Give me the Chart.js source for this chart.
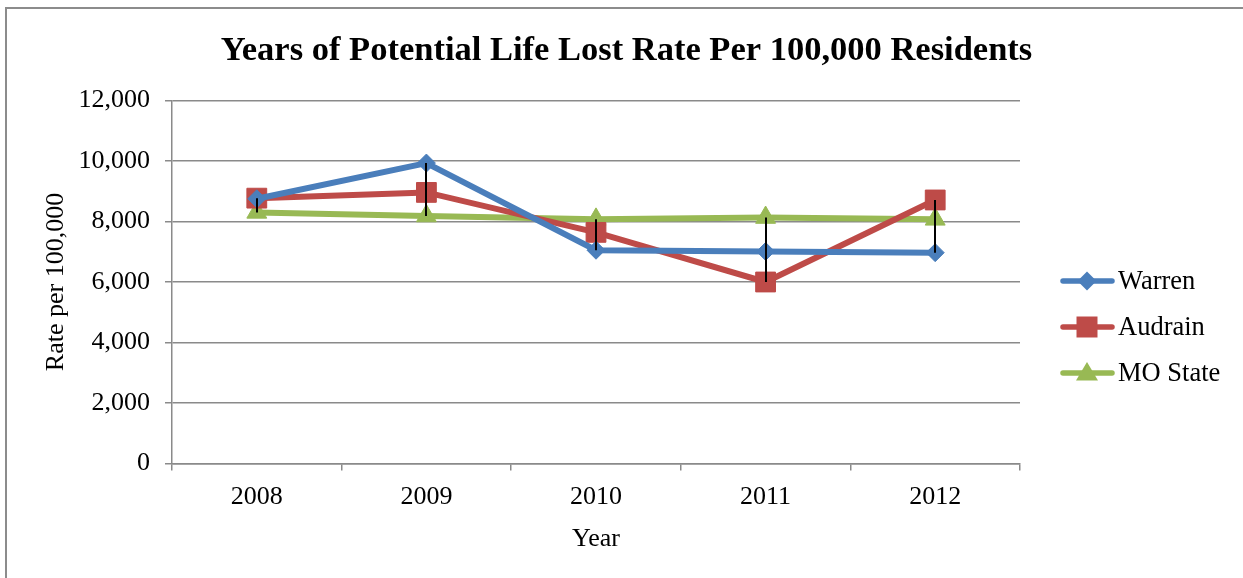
<!DOCTYPE html>
<html>
<head>
<meta charset="utf-8">
<script src="https://cdn.jsdelivr.net/npm/chart.js@4/dist/chart.umd.min.js"></script>
<style>
  body { margin: 0; background: #fff; }
  #wrap { position: relative; width: 1243px; height: 578px; }
  #frame { position: absolute; left: 5px; top: 7px; right: -4px; bottom: -4px; border-left: 2px solid #8c8c8c; border-top: 2px solid #8c8c8c; }
  #yplchart { position: absolute; left: 0; top: 0; }
</style>
</head>
<body>
<div id="wrap">
  <div id="frame"></div>
  <canvas id="yplchart" width="1243" height="578"></canvas>
</div>
<script>
var years = ["2008", "2009", "2010", "2011", "2012"];
var warren = [8750, 9930, 7050, 7010, 6970];
var audrain = [8770, 8960, 7640, 6000, 8710];
var moState = [8300, 8180, 8070, 8130, 8070];
var yTickValues = [0, 2000, 4000, 6000, 8000, 10000, 12000];

var serif = "'Liberation Serif', 'Times New Roman', serif";
var gridGray = "#8a8a8a";

// black high-low line at each year, from the highest to the lowest series value
var hiLowLines = {
  id: "hiLowLines",
  afterDatasetsDraw: function (chart) {
    var ctx = chart.ctx;
    var xs = chart.scales.x, ys = chart.scales.y;
    ctx.save();
    ctx.strokeStyle = "#000";
    ctx.lineWidth = 2;
    years.forEach(function (yr, i) {
      var vals = chart.data.datasets.map(function (d) { return d.data[i]; });
      var x = Math.round(xs.getPixelForValue(i));
      ctx.beginPath();
      ctx.moveTo(x, ys.getPixelForValue(Math.max.apply(null, vals)));
      ctx.lineTo(x, ys.getPixelForValue(Math.min.apply(null, vals)));
      ctx.stroke();
    });
    ctx.restore();
  }
};

function drawMarker(ctx, style, x, y, color) {
  ctx.fillStyle = color;
  ctx.beginPath();
  if (style == "rectRot") {
    ctx.moveTo(x, y - 9.5); ctx.lineTo(x + 9.5, y); ctx.lineTo(x, y + 9.5); ctx.lineTo(x - 9.5, y);
  } else if (style == "rect") {
    ctx.rect(x - 10.5, y - 10.5, 21, 21);
  } else {
    ctx.moveTo(x, y - 11); ctx.lineTo(x + 11, y + 7.5); ctx.lineTo(x - 11, y + 7.5);
  }
  ctx.closePath();
  ctx.fill();
}

// legend drawn at the right like the Excel one: line + marker + label
var sideLegend = {
  id: "sideLegend",
  afterDraw: function (chart) {
    var ctx = chart.ctx;
    ctx.save();
    chart.data.datasets.forEach(function (d, i) {
      var y = 281 + i * 46;
      ctx.strokeStyle = d.borderColor;
      ctx.lineWidth = 5.5;
      ctx.lineCap = "round";
      ctx.beginPath();
      ctx.moveTo(1063, y);
      ctx.lineTo(1112, y);
      ctx.stroke();
      drawMarker(ctx, d.pointStyle, 1087, y, d.borderColor);
      ctx.fillStyle = "#000";
      ctx.font = "26.5px " + serif;
      ctx.textBaseline = "middle";
      ctx.fillText(d.label, 1118, y + 1);
    });
    ctx.restore();
  }
};

new Chart("yplchart", {
  type: "line",
  data: {
    labels: years,
    datasets: [
      { label: "Warren", data: warren, borderColor: "#4a7ebb", backgroundColor: "#4a7ebb",
        pointStyle: "rectRot", pointRadius: 9, pointBorderWidth: 1 },
      { label: "Audrain", data: audrain, borderColor: "#be4b48", backgroundColor: "#be4b48",
        pointStyle: "rect", pointRadius: 14, pointBorderWidth: 1 },
      { label: "MO State", data: moState, borderColor: "#98b954", backgroundColor: "#98b954",
        pointStyle: "triangle", pointRadius: 11.5, pointBorderWidth: 1 }
    ]
  },
  options: {
    responsive: false,
    animation: false,
    borderWidth: 6,
    tension: 0,
    layout: { padding: { left: 10, right: 0, top: 0, bottom: 19 } },
    plugins: {
      legend: { display: false },
      tooltip: { enabled: false },
      title: {
        display: true,
        text: "Years of Potential Life Lost Rate Per 100,000 Residents",
        color: "#000",
        font: { family: serif, size: 34.5, weight: "bold" },
        padding: { top: 30, bottom: 29 }
      }
    },
    scales: {
      x: {
        offset: true,
        grid: { offset: true, drawOnChartArea: false, drawTicks: true, tickLength: 7, color: gridGray, lineWidth: 1.5 },
        border: { color: gridGray, width: 1.5 },
        ticks: { color: "#000", font: { family: serif, size: 26 }, padding: 11 },
        title: { display: true, text: "Year", color: "#000", font: { family: serif, size: 26 }, padding: { top: 0, bottom: 4 } }
      },
      y: {
        min: 0,
        max: 12000,
        afterBuildTicks: function (scale) {
          scale.ticks = yTickValues.map(function (v) { return { value: v }; });
        },
        afterFit: function (scale) { scale.width = 162; },
        grid: { color: gridGray, lineWidth: 1.5, drawTicks: true, tickLength: 7 },
        border: { color: gridGray, width: 1.5 },
        ticks: {
          color: "#000",
          font: { family: serif, size: 26 },
          padding: 15,
          callback: function (v) { return Number(v).toLocaleString("en-US"); }
        },
        title: { display: true, text: "Rate per 100,000", color: "#000", font: { family: serif, size: 26 }, padding: { top: 31, bottom: 0 } }
      },
      // empty right-hand axis only reserves the legend's room
      legendRoom: {
        type: "linear",
        position: "right",
        grid: { display: false },
        border: { display: false },
        ticks: { display: false },
        afterFit: function (scale) { scale.width = 223; }
      }
    }
  },
  plugins: [hiLowLines, sideLegend]
});
</script>
</body>
</html>
